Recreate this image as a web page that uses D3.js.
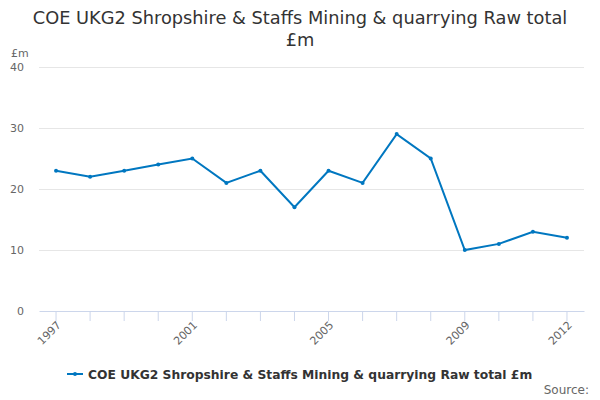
<!DOCTYPE html>
<html>
<head>
<meta charset="utf-8">
<script src="https://cdn.jsdelivr.net/npm/d3@7"></script>
<style>
  body { margin: 0; background: #fff; }
  svg { font-family: "DejaVu Sans", sans-serif; }
  .grid line { stroke: #e6e6e6; }
  .grid .domain { display: none; }
</style>
</head>
<body>
<svg id="chart" width="600" height="400"></svg>
<script>
const years = ['1997', '1998', '1999', '2000', '2001', '2002', '2003', '2004',
  '2005', '2006', '2007', '2008', '2009', '2010', '2011', '2012'];
const values = [23, 22, 23, 24, 25, 21, 23, 17, 23, 21, 29, 25, 10, 11, 13, 12];
const yTicks = [0, 10, 20, 30, 40];
const shownYears = ['1997', '2001', '2005', '2009', '2012'];
const seriesName = 'COE UKG2 Shropshire & Staffs Mining & quarrying Raw total £m';

const svg = d3.select('#chart');
const plotLeft = 39, plotRight = 584, plotTop = 67, plotBottom = 311;
const color = '#0077c0';

const x = d3.scaleBand()
  .domain(years)
  .range([plotLeft, plotRight]);
const y = d3.scaleLinear()
  .domain([0, 40])
  .range([plotBottom, plotTop]);

// title
svg.append('text')
  .attr('x', 300).attr('y', 24)
  .attr('text-anchor', 'middle')
  .attr('font-size', 17.8).attr('fill', '#333')
  .text('COE UKG2 Shropshire & Staffs Mining & quarrying Raw total');
svg.append('text')
  .attr('x', 300).attr('y', 46)
  .attr('text-anchor', 'middle')
  .attr('font-size', 17.8).attr('fill', '#333')
  .text('£m');

svg.append('text')
  .attr('x', 11).attr('y', 57)
  .attr('font-size', 11).attr('fill', '#666')
  .text('£m');

// gridlines + y labels
svg.append('g')
  .attr('class', 'grid')
  .attr('transform', `translate(${plotLeft},0)`)
  .call(d3.axisLeft(y).tickValues(yTicks.slice(1)).tickSize(-(plotRight - plotLeft)).tickFormat(''));

svg.append('g')
  .selectAll('text')
  .data(yTicks)
  .join('text')
  .attr('x', 24)
  .attr('y', d => y(d) + 4)
  .attr('text-anchor', 'end')
  .attr('font-size', 11)
  .attr('fill', '#666')
  .text(d => d);

// x axis
const xAxis = svg.append('g')
  .attr('transform', `translate(0,${plotBottom})`)
  .call(d3.axisBottom(x).tickSize(10).tickSizeOuter(0)
    .tickFormat(d => shownYears.includes(d) ? d : ''));
xAxis.select('.domain').attr('stroke', '#ccd6eb');
xAxis.selectAll('.tick line').attr('stroke', '#ccd6eb');
xAxis.selectAll('.tick text')
  .attr('font-size', 11)
  .attr('fill', '#666')
  .attr('font-family', '"DejaVu Sans", sans-serif')
  .attr('text-anchor', 'end')
  .attr('transform', 'translate(3,12) rotate(-45)')
  .attr('dy', '0.35em')
  .attr('y', 0).attr('x', 0);

// line
const line = d3.line()
  .x((d, i) => x(years[i]) + x.bandwidth() / 2)
  .y(d => y(d));

svg.append('path')
  .datum(values)
  .attr('d', line)
  .attr('fill', 'none')
  .attr('stroke', color)
  .attr('stroke-width', 2);

svg.append('g')
  .selectAll('circle')
  .data(values)
  .join('circle')
  .attr('cx', (d, i) => x(years[i]) + x.bandwidth() / 2)
  .attr('cy', d => y(d))
  .attr('r', 2)
  .attr('fill', color);

// legend
const legend = svg.append('g').attr('transform', 'translate(67,374)');
legend.append('line')
  .attr('x1', 0).attr('x2', 16)
  .attr('stroke', color).attr('stroke-width', 2);
legend.append('circle')
  .attr('cx', 8).attr('r', 2).attr('fill', color);
legend.append('text')
  .attr('x', 21).attr('y', 4.5)
  .attr('font-size', 12.3).attr('font-weight', 'bold')
  .attr('fill', '#333')
  .text(seriesName);

svg.append('text')
  .attr('x', 589).attr('y', 394)
  .attr('text-anchor', 'end')
  .attr('font-size', 12).attr('fill', '#666')
  .text('Source:');
</script>
</body>
</html>
